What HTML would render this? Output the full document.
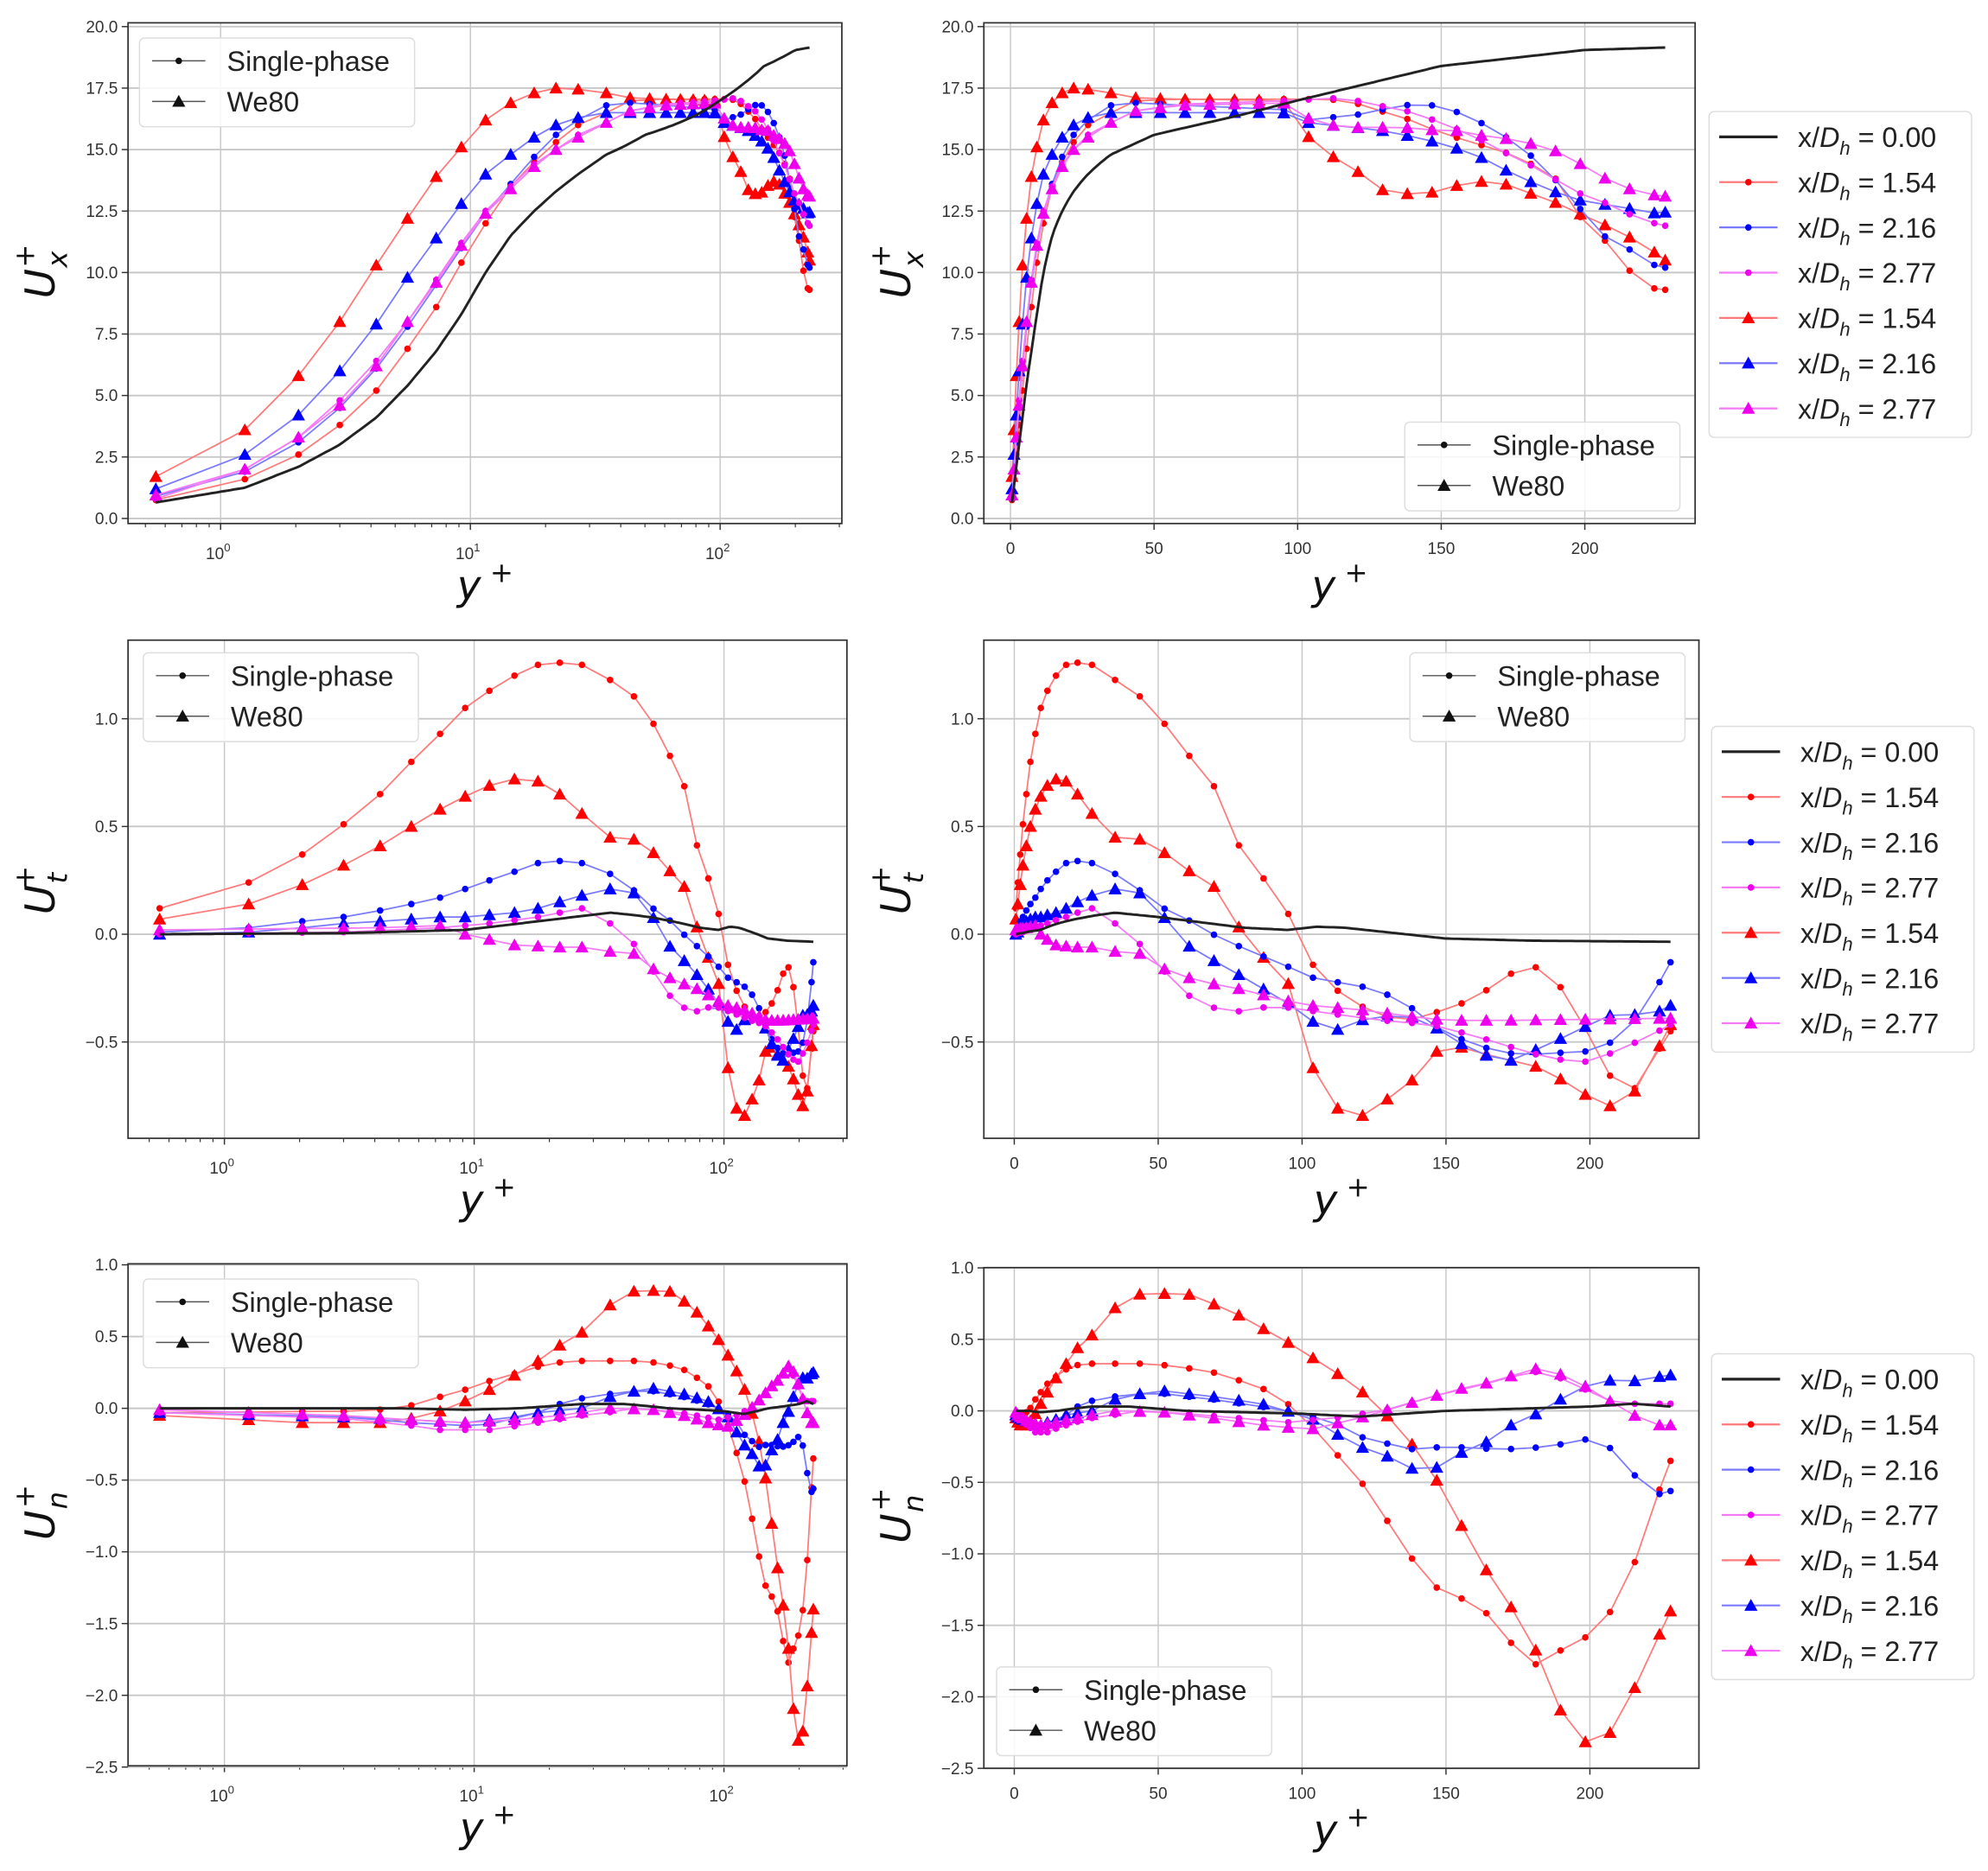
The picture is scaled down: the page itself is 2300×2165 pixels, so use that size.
<!DOCTYPE html>
<html><head><meta charset="utf-8"><style>
html,body{margin:0;padding:0;background:#fff;}
svg{display:block;}
</style></head><body>
<svg id="s" xmlns="http://www.w3.org/2000/svg" width="2300" height="2165" viewBox="0 0 1568 1476" preserveAspectRatio="none" font-family="Liberation Sans, DejaVu Sans, sans-serif"></svg>
<script>
const S=document.getElementById('s');
let out='';
function add(s){out+=s;}
const G=[0.55,1.25,2.05,3,4.2,5.6,7.3,9.2,11.5,14.5,18,22,27];
for(let v=35;v<=226;v+=8.6)G.push(+v.toFixed(1));G.push(228);
function interp(cp,y){
  for(let i=0;i<cp.length-1;i++){
    const a=cp[i],b=cp[i+1];
    if(y>=a[0]&&y<=b[0]){
      let t;
      if(b[0]<=35)t=(Math.log(y)-Math.log(a[0]))/(Math.log(b[0])-Math.log(a[0]));
      else t=(y-a[0])/(b[0]-a[0]);
      return a[1]+(b[1]-a[1])*t;
    }
  }
  return y<cp[0][0]?cp[0][1]:cp[cp.length-1][1];
}
const RED='#ff0000',BLUE='#0000ff',MAG='#ee00ee';
const LRED='#ff7a7a',LBLUE='#7a7aff',LMAG='#f57af5';
const D={
ux:{
 black:[[0.55,0.65],[1.25,1.25],[2.05,2.1],[3,3.0],[4.2,4.1],[5.6,5.4],[7.3,6.8],[9.2,8.3],[11.5,10],[14.5,11.5],[18,12.5],[22,13.3],[27,14],[35,14.8],[50,15.6],[80,16.4],[100,17],[150,18.4],[200,19.05],[228,19.15]],
 rd:[[0.55,0.75],[1.25,1.6],[2.05,2.6],[3,3.8],[4.2,5.2],[5.6,6.9],[7.3,8.6],[9.2,10.4],[11.5,12.0],[14.5,13.5],[18,14.5],[22,15.3],[27,16],[35,16.5],[44,17],[60,17.05],[100,17.05],[111,17.05],[120,16.9],[128,16.6],[137,16.3],[145,15.9],[160,15.3],[170,15],[180,14.5],[190,13.8],[196,12.5],[205,11.6],[213,10.4],[221,9.4],[228,9.3]],
 rt:[[0.55,1.7],[1.25,3.6],[2.05,5.8],[3,8.0],[4.2,10.3],[5.6,12.2],[7.3,13.9],[9.2,15.1],[11.5,16.2],[14.5,16.9],[18,17.3],[22,17.5],[27,17.45],[35,17.3],[44,17.1],[60,17.05],[95,17.0],[103,15.6],[111,14.8],[120,14.2],[128,13.4],[137,13.2],[145,13.2],[154,13.5],[162,13.7],[170,13.7],[179,13.3],[187,13.0],[196,12.5],[204,12.1],[213,11.6],[221,11.1],[228,10.5]],
 bd:[[0.55,0.9],[1.25,1.9],[2.05,3.1],[3,4.5],[4.2,6.1],[5.6,7.8],[7.3,9.5],[9.2,11.0],[11.5,12.4],[14.5,13.6],[18,14.7],[22,15.6],[27,16.2],[35,16.8],[44,16.9],[60,16.8],[100,16.6],[103,16.2],[111,16.3],[120,16.4],[128,16.6],[137,16.8],[145,16.85],[154,16.6],[162,16.2],[170,15.7],[179,15.0],[187,14.1],[196,13.0],[204,11.6],[213,11.2],[221,10.4],[228,10.2]],
 bt:[[0.55,1.2],[1.25,2.6],[2.05,4.2],[3,6.0],[4.2,7.9],[5.6,9.8],[7.3,11.4],[9.2,12.8],[11.5,14.0],[14.5,14.8],[18,15.5],[22,16.0],[27,16.3],[35,16.5],[95,16.5],[103,16.1],[111,16.0],[120,15.9],[128,15.8],[137,15.6],[145,15.4],[154,15.1],[162,14.8],[170,14.3],[179,13.8],[187,13.4],[196,13.0],[204,12.8],[213,12.7],[221,12.4],[228,12.45]],
 md:[[0.55,0.8],[1.25,2.0],[2.05,3.3],[3,4.8],[4.2,6.4],[5.6,8.0],[7.3,9.7],[9.2,11.2],[11.5,12.5],[14.5,13.5],[18,14.4],[22,15.0],[27,15.6],[35,16.1],[44,16.6],[60,16.85],[100,17.0],[111,17.1],[120,17.0],[128,16.8],[137,16.6],[145,16.3],[154,15.9],[162,15.5],[170,15.0],[179,14.5],[187,14.0],[196,13.3],[204,13.0],[213,12.5],[221,12.1],[228,11.9]],
 mt:[[0.55,0.95],[1.25,2.0],[2.05,3.3],[3,4.6],[4.2,6.2],[5.6,8.0],[7.3,9.6],[9.2,11.1],[11.5,12.4],[14.5,13.4],[18,14.3],[22,15.0],[27,15.5],[35,16.1],[44,16.6],[60,16.8],[95,16.9],[103,16.3],[111,16.0],[120,15.9],[137,15.9],[145,15.8],[154,15.8],[162,15.6],[170,15.5],[179,15.3],[187,15.1],[196,14.6],[204,14.0],[213,13.5],[221,13.2],[228,13.1]]
},
ut:{
 black:[[0.55,0],[3,0.005],[9.2,0.02],[18,0.06],[35,0.1],[50,0.08],[80,0.03],[95,0.02],[105,0.035],[115,0.03],[150,-0.02],[180,-0.03],[228,-0.035]],
 rd:[[0.55,0.12],[1.25,0.24],[2.05,0.37],[3,0.51],[4.2,0.65],[5.6,0.8],[7.3,0.93],[9.2,1.05],[11.5,1.13],[14.5,1.2],[18,1.25],[22,1.26],[27,1.25],[35,1.18],[44,1.1],[52,0.98],[60,0.84],[69,0.7],[77,0.43],[86,0.27],[95,0.1],[103,-0.13],[111,-0.25],[120,-0.33],[128,-0.38],[137,-0.4],[145,-0.37],[154,-0.33],[162,-0.28],[170,-0.2],[179,-0.14],[187,-0.19],[196,-0.37],[204,-0.6],[213,-0.77],[221,-0.6],[228,-0.45]],
 rt:[[0.55,0.07],[1.25,0.14],[2.05,0.23],[3,0.32],[4.2,0.41],[5.6,0.5],[7.3,0.58],[9.2,0.64],[11.5,0.69],[14.5,0.72],[18,0.71],[22,0.65],[27,0.56],[35,0.45],[44,0.44],[52,0.38],[60,0.3],[69,0.23],[77,0.05],[86,-0.1],[95,-0.22],[103,-0.6],[111,-0.8],[120,-0.85],[128,-0.78],[137,-0.7],[145,-0.55],[154,-0.52],[162,-0.55],[170,-0.58],[179,-0.6],[187,-0.65],[196,-0.72],[204,-0.8],[213,-0.79],[221,-0.6],[228,-0.42]],
 bd:[[0.55,0.01],[1.25,0.03],[2.05,0.06],[3,0.08],[4.2,0.11],[5.6,0.14],[7.3,0.17],[9.2,0.21],[11.5,0.25],[14.5,0.29],[18,0.33],[22,0.34],[27,0.33],[35,0.28],[44,0.2],[52,0.12],[60,0.07],[69,0.0],[77,-0.05],[86,-0.1],[95,-0.15],[103,-0.2],[111,-0.22],[120,-0.24],[128,-0.27],[137,-0.33],[145,-0.42],[154,-0.48],[162,-0.52],[170,-0.55],[179,-0.56],[187,-0.55],[196,-0.55],[204,-0.53],[213,-0.45],[221,-0.3],[228,-0.13]],
 bt:[[0.55,0.0],[1.25,0.01],[2.05,0.03],[3,0.05],[4.2,0.06],[5.6,0.07],[7.3,0.08],[9.2,0.08],[11.5,0.09],[14.5,0.1],[18,0.12],[22,0.15],[27,0.18],[35,0.21],[44,0.19],[52,0.08],[60,-0.05],[69,-0.12],[77,-0.18],[86,-0.25],[95,-0.32],[103,-0.4],[111,-0.45],[120,-0.4],[128,-0.38],[137,-0.38],[145,-0.42],[154,-0.5],[162,-0.55],[170,-0.6],[179,-0.55],[187,-0.5],[196,-0.45],[204,-0.38],[213,-0.37],[221,-0.38],[228,-0.33]],
 md:[[0.55,0.0],[3,0.01],[7.3,0.03],[11.5,0.05],[18,0.08],[22,0.1],[27,0.12],[35,0.05],[44,-0.05],[52,-0.17],[60,-0.28],[69,-0.34],[77,-0.36],[86,-0.34],[95,-0.34],[111,-0.37],[128,-0.4],[145,-0.42],[162,-0.48],[179,-0.55],[196,-0.6],[204,-0.57],[213,-0.52],[221,-0.47],[228,-0.42]],
 mt:[[0.55,0.02],[4.2,0.03],[7.3,0.04],[9.2,0.0],[14.5,-0.05],[22,-0.06],[27,-0.06],[35,-0.08],[44,-0.09],[52,-0.16],[60,-0.2],[69,-0.23],[77,-0.25],[86,-0.28],[95,-0.31],[103,-0.33],[120,-0.35],[137,-0.38],[150,-0.4],[170,-0.4],[228,-0.39]]
},
un:{
 black:[[0.55,0],[5,0],[9.2,-0.01],[15,0.0],[27,0.03],[40,0.03],[60,0.0],[100,-0.02],[120,-0.04],[150,0.0],[200,0.03],[215,0.05],[228,0.03]],
 rd:[[0.55,-0.03],[3,-0.02],[4.2,-0.01],[5.6,0.02],[7.3,0.08],[9.2,0.13],[11.5,0.19],[14.5,0.24],[18,0.29],[22,0.32],[27,0.33],[35,0.33],[44,0.33],[52,0.32],[60,0.3],[69,0.27],[77,0.22],[86,0.16],[95,0.05],[103,-0.1],[111,-0.28],[120,-0.48],[128,-0.72],[137,-1.0],[145,-1.22],[154,-1.3],[162,-1.37],[170,-1.55],[179,-1.8],[187,-1.7],[196,-1.62],[204,-1.5],[213,-1.22],[221,-0.72],[228,-0.35]],
 rt:[[0.55,-0.05],[1.25,-0.08],[2.05,-0.1],[4.2,-0.1],[5.6,-0.07],[7.3,-0.02],[9.2,0.05],[11.5,0.13],[14.5,0.23],[18,0.33],[22,0.44],[27,0.53],[35,0.72],[44,0.82],[52,0.82],[60,0.82],[69,0.75],[77,0.68],[86,0.58],[95,0.48],[103,0.38],[111,0.28],[120,0.15],[128,0.0],[137,-0.2],[145,-0.42],[154,-0.75],[162,-1.05],[170,-1.3],[179,-1.55],[187,-2.0],[196,-2.3],[204,-2.35],[213,-2.05],[221,-1.7],[228,-1.4]],
 bd:[[0.55,-0.03],[3,-0.06],[5.6,-0.1],[9.2,-0.12],[11.5,-0.11],[14.5,-0.07],[18,-0.03],[22,0.03],[27,0.07],[35,0.1],[44,0.12],[52,0.12],[60,0.1],[69,0.08],[86,0.03],[100,-0.02],[111,-0.08],[120,-0.18],[128,-0.22],[137,-0.27],[150,-0.25],[170,-0.27],[187,-0.25],[196,-0.2],[204,-0.2],[213,-0.38],[221,-0.6],[228,-0.56]],
 bt:[[0.55,-0.03],[3,-0.06],[5.6,-0.08],[9.2,-0.1],[14.5,-0.06],[18,-0.03],[27,0.0],[35,0.08],[44,0.12],[52,0.14],[60,0.12],[69,0.1],[86,0.05],[103,-0.05],[111,-0.15],[120,-0.25],[128,-0.3],[137,-0.4],[145,-0.42],[154,-0.3],[162,-0.25],[170,-0.12],[179,-0.05],[187,0.05],[196,0.15],[204,0.22],[213,0.2],[221,0.23],[228,0.25]],
 md:[[0.55,-0.03],[3,-0.07],[5.6,-0.12],[7.3,-0.15],[11.5,-0.15],[18,-0.1],[27,-0.05],[44,0.0],[60,-0.02],[77,-0.05],[95,-0.08],[111,-0.05],[128,0.0],[145,0.1],[162,0.18],[170,0.22],[179,0.28],[187,0.25],[196,0.18],[204,0.08],[213,0.05],[228,0.05]],
 mt:[[0.55,-0.01],[3,-0.05],[5.6,-0.08],[9.2,-0.1],[14.5,-0.08],[22,-0.05],[35,0.0],[52,-0.01],[69,-0.05],[86,-0.1],[103,-0.13],[120,-0.05],[137,0.05],[154,0.15],[170,0.22],[179,0.3],[187,0.28],[196,0.2],[204,0.1],[213,0.0],[221,-0.1],[228,-0.1]]
}};
const SER=[['rd',LRED,RED,'o'],['rt',LRED,RED,'t'],['bd',LBLUE,BLUE,'o'],['bt',LBLUE,BLUE,'t'],['md',LMAG,MAG,'o'],['mt',LMAG,MAG,'t']];
function mk(x,y,c,t){
  if(t==='o')return `<circle cx="${x.toFixed(1)}" cy="${y.toFixed(1)}" r="2.6" fill="${c}"/>`;
  const s=5.2;return `<polygon points="${x.toFixed(1)},${(y-s).toFixed(1)} ${(x-s).toFixed(1)},${(y+s*0.8).toFixed(1)} ${(x+s).toFixed(1)},${(y+s*0.8).toFixed(1)}" fill="${c}"/>`;
}
function panel(p){
  const {x0,x1,y0,y1,log,key,yz,ys,yt,dec,lab}=p;
  const X=log?(v=>p.xa+Math.log10(v)*p.dec):(v=>p.xa+v*p.xs);
  const Y=v=>yz-v*ys;
  add(`<defs><clipPath id="c${p.id}"><rect x="${x0}" y="${y0}" width="${x1-x0}" height="${y1-y0}"/></clipPath></defs>`);
  let xt=log?[1,10,100]:[0,50,100,150,200];
  xt.forEach(v=>{const x=X(v);add(`<line x1="${x}" y1="${y0}" x2="${x}" y2="${y1}" stroke="#c8c8c8" stroke-width="1"/>`);
    add(`<line x1="${x}" y1="${y1}" x2="${x}" y2="${y1+5}" stroke="#333" stroke-width="1"/>`);
    if(log){const e=Math.round(Math.log10(v));add(`<text x="${x-2}" y="${y1+28}" font-size="13" fill="#333" text-anchor="middle">10<tspan dy="-6" font-size="9">${e}</tspan></text>`);}
    else add(`<text x="${x}" y="${y1+24}" font-size="13" fill="#333" text-anchor="middle">${v}</text>`);
  });
  if(log){for(let d=-1;d<=2;d++)for(let m=2;m<=9;m++){const x=X(m*Math.pow(10,d));if(x>x0&&x<x1)add(`<line x1="${x}" y1="${y1}" x2="${x}" y2="${y1+3}" stroke="#333" stroke-width="0.8"/>`);}}
  yt.forEach(v=>{const y=Y(v);add(`<line x1="${x0}" y1="${y}" x2="${x1}" y2="${y}" stroke="#c8c8c8" stroke-width="1.3"/>`);
    add(`<line x1="${x0-5}" y1="${y}" x2="${x0}" y2="${y}" stroke="#333" stroke-width="1"/>`);
    add(`<text x="${x0-8}" y="${y+4.5}" font-size="13" fill="#333" text-anchor="end">${(v<0?'\u2212':'')+Math.abs(v).toFixed(1)}</text>`);});
  const d=D[key];
  add(`<g clip-path="url(#c${p.id})">`);
  let pts=[];for(let i=0;i<=200;i++){const v=log?Math.pow(10,Math.log10(0.55)+i/200*(Math.log10(228)-Math.log10(0.55))):0.55+i/200*(227.45);pts.push(X(v).toFixed(1)+','+Y(interp(d.black,v)).toFixed(1));}
  SER.forEach(([k,lc,mc,t])=>{
    const pp=G.map(g=>[X(g),Y(interp(d[k],g))]);
    add(`<polyline points="${pp.map(q=>q[0].toFixed(1)+','+q[1].toFixed(1)).join(' ')}" fill="none" stroke="${lc}" stroke-width="1.2"/>`);
    pp.forEach(q=>add(mk(q[0],q[1],mc,t)));
  });
  add(`<polyline points="${pts.join(' ')}" fill="none" stroke="#222" stroke-width="2"/>`);
  add(`</g>`);
  add(`<rect x="${x0}" y="${y0}" width="${x1-x0}" height="${y1-y0}" fill="none" stroke="#333" stroke-width="1.2"/>`);
  const cx=(x0+x1)/2, ly=y1+60;
  add(`<text x="${cx-22}" y="${ly}" font-size="32" font-style="italic" font-family="DejaVu Sans, sans-serif" fill="#111">y<tspan dy="-14" font-size="22" font-style="normal"> +</tspan></text>`);
  const lx=x0-68, lyc=(y0+y1)/2;
  add(`<g transform="translate(${lx},${lyc}) rotate(-90)"><text x="-20" y="10" font-size="32" font-style="italic" font-family="DejaVu Sans, sans-serif" fill="#111">U<tspan dx="1" dy="10" font-size="22">${lab}</tspan><tspan dx="-13" dy="-26" font-size="22" font-style="normal">+</tspan></text></g>`);
  const [lgx,lgy]=p.leg;
  add(`<rect x="${lgx}" y="${lgy}" width="217" height="70" rx="4" fill="#fff" fill-opacity="0.85" stroke="#ddd"/>`);
  add(`<line x1="${lgx+10}" y1="${lgy+18}" x2="${lgx+52}" y2="${lgy+18}" stroke="#555" stroke-width="1"/><circle cx="${lgx+31}" cy="${lgy+18}" r="2.6" fill="#111"/>`);
  add(`<line x1="${lgx+10}" y1="${lgy+50}" x2="${lgx+52}" y2="${lgy+50}" stroke="#555" stroke-width="1"/>`+mk(lgx+31,lgy+50,'#111','t'));
  add(`<text x="${lgx+69}" y="${lgy+26}" font-size="22" fill="#222">Single-phase</text><text x="${lgx+69}" y="${lgy+58}" font-size="22" fill="#222">We80</text>`);
}
function rlegend(x,y){
  add(`<rect x="${x}" y="${y}" width="207" height="257" rx="4" fill="#fff" stroke="#ddd"/>`);
  const items=[['#222',null,'0.00'],[LRED,['o',RED],'1.54'],[LBLUE,['o',BLUE],'2.16'],[LMAG,['o',MAG],'2.77'],[LRED,['t',RED],'1.54'],[LBLUE,['t',BLUE],'2.16'],[LMAG,['t',MAG],'2.77']];
  items.forEach((it,i)=>{const yy=y+20+i*35.7;
    add(`<line x1="${x+8}" y1="${yy}" x2="${x+54}" y2="${yy}" stroke="${it[0]}" stroke-width="${it[1]?1.5:2.2}"/>`);
    if(it[1])add(mk(x+31,yy,it[1][1],it[1][0]));
    add(`<text x="${x+70}" y="${yy+8}" font-size="22" fill="#222">x/<tspan font-style="italic">D</tspan><tspan dy="6" font-size="15" font-style="italic">h</tspan><tspan dy="-6"> = ${it[2]}</tspan></text>`);
  });
}
const uxT=[0,2.5,5,7.5,10,12.5,15,17.5,20],utT=[-0.5,0,0.5,1.0],unT=[-2.5,-2,-1.5,-1,-0.5,0,0.5,1.0];
panel({id:1,x0:101,x1:664,y0:18,y1:413,log:true,xa:174,dec:197,key:'ux',yz:409,ys:19.4,yt:uxT,lab:'x',leg:[110,30]});
panel({id:2,x0:776,x1:1337,y0:18,y1:413,log:false,xa:797,xs:2.265,key:'ux',yz:409,ys:19.4,yt:uxT,lab:'x',leg:[1108,333]});
panel({id:3,x0:101,x1:668,y0:505,y1:898,log:true,xa:177,dec:197,key:'ut',yz:737,ys:170,yt:utT,lab:'t',leg:[113,515]});
panel({id:4,x0:776,x1:1340,y0:505,y1:898,log:false,xa:800,xs:2.27,key:'ut',yz:737,ys:170,yt:utT,lab:'t',leg:[1112,515]});
panel({id:5,x0:101,x1:668,y0:997,y1:1393,log:true,xa:177,dec:197,key:'un',yz:1111,ys:113.2,yt:unT,lab:'n',leg:[113,1009]});
panel({id:6,x0:776,x1:1340,y0:1000,y1:1395,log:false,xa:800,xs:2.27,key:'un',yz:1113,ys:112.8,yt:unT,lab:'n',leg:[786,1315]});
rlegend(1348,88);rlegend(1350,573);rlegend(1350,1068);
S.innerHTML=out;
</script>
</body></html>
